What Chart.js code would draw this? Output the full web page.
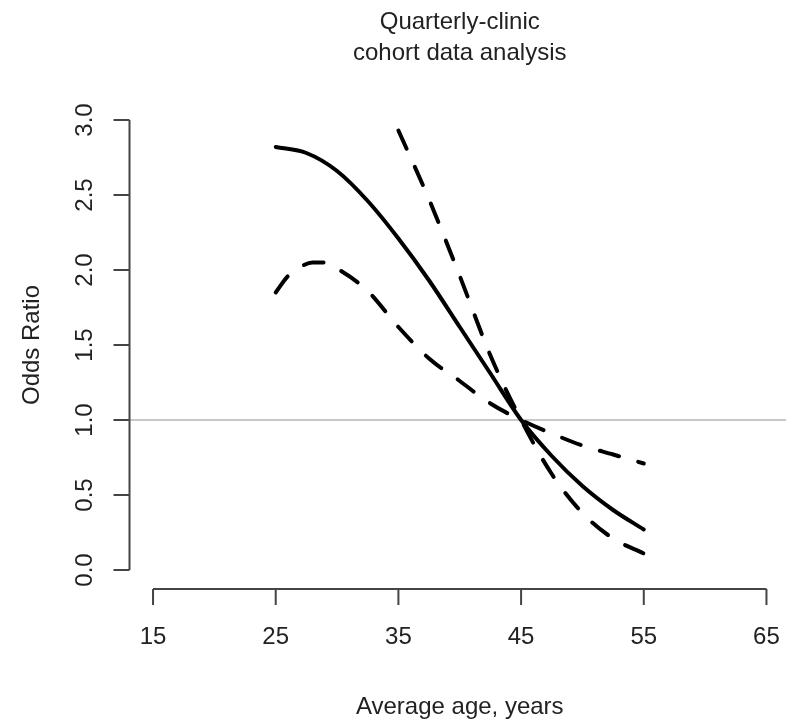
<!DOCTYPE html>
<html>
<head>
<meta charset="utf-8">
<script src="https://cdn.jsdelivr.net/npm/chart.js@4/dist/chart.umd.min.js"></script>
<style>
  html, body { margin: 0; padding: 0; background: #fff; overflow: hidden; }
  canvas { display: block; }
</style>
</head>
<body>
<canvas id="orChart" width="791" height="721"></canvas>
<script>
// Odds ratio vs average age - R base plot look

// ===== DADOS =====
const titleLines = ['Quarterly-clinic', 'cohort data analysis'];
const xTitle = 'Average age, years';
const yTitle = 'Odds Ratio';

const xTicks = [15, 25, 35, 45, 55, 65];
const yTicks = [0, 0.5, 1, 1.5, 2, 2.5, 3];
const refLine = 1.0;

// curva central (linha cheia)
const estAge = [25, 27.5, 30, 32.5, 35, 37.5, 40, 42.5, 45, 47.5, 50, 52.5, 55];
const estOR  = [2.82, 2.78, 2.66, 2.46, 2.21, 1.93, 1.62, 1.31, 1.00, 0.76, 0.56, 0.40, 0.27];

// limite superior (tracejado)
const upperAge = [35, 37.5, 40, 42.5, 45, 47.5, 50, 52.5, 55];
const upperOR  = [2.93, 2.47, 1.96, 1.43, 1.00, 0.64, 0.38, 0.21, 0.11];

// limite inferior (tracejado)
const lowerAge = [25, 26, 27, 28, 29, 30, 32.5, 35, 37.5, 40, 42.5, 45, 47.5, 50, 52.5, 55];
const lowerOR  = [1.85, 1.96, 2.02, 2.05, 2.05, 2.01, 1.86, 1.62, 1.41, 1.26, 1.11, 1.00, 0.91, 0.83, 0.77, 0.71];

// faixa dos eixos (R estende 4% de cada lado)
const X_MIN = 13, X_MAX = 67;
const Y_MIN = -0.12, Y_MAX = 3.12;

const FONT = '"Liberation Sans", Arial, Helvetica, sans-serif';

function toPoints(xs, ys) {
  return xs.map((x, i) => ({ x: x, y: ys[i] }));
}

// ===== EIXOS E TEXTOS ESTILO R =====
const rAxesPlugin = {
  id: 'rAxes',
  afterDraw(chart) {
    const ctx = chart.ctx;
    const xs = chart.scales.x;
    const ys = chart.scales.y;
    const area = chart.chartArea;
    const cx = (area.left + area.right) / 2;

    ctx.save();

    // título
    ctx.fillStyle = '#222';
    ctx.font = '24px ' + FONT;
    ctx.textAlign = 'center';
    ctx.textBaseline = 'middle';
    titleLines.forEach((line, i) => ctx.fillText(line, cx, 22 + i * 31));

    // eixo y
    const axisX = Math.round(area.left) + 0.5;
    ctx.strokeStyle = '#444';
    ctx.lineWidth = 2;
    ctx.beginPath();
    ctx.moveTo(axisX, ys.getPixelForValue(yTicks[0]));
    ctx.lineTo(axisX, ys.getPixelForValue(yTicks[yTicks.length - 1]));
    yTicks.forEach(v => {
      const py = ys.getPixelForValue(v);
      ctx.moveTo(axisX, py);
      ctx.lineTo(axisX - 16, py);
    });
    ctx.stroke();

    yTicks.forEach(v => {
      const py = ys.getPixelForValue(v);
      ctx.save();
      ctx.translate(85, py);
      ctx.rotate(-Math.PI / 2);
      ctx.fillText(v.toFixed(1), 0, 0);
      ctx.restore();
    });

    ctx.save();
    ctx.translate(32, (area.top + area.bottom) / 2);
    ctx.rotate(-Math.PI / 2);
    ctx.fillText(yTitle, 0, 0);
    ctx.restore();

    // eixo x
    const axisY = Math.round(area.bottom) + 1;
    ctx.beginPath();
    ctx.moveTo(xs.getPixelForValue(xTicks[0]), axisY);
    ctx.lineTo(xs.getPixelForValue(xTicks[xTicks.length - 1]), axisY);
    xTicks.forEach(v => {
      const px = xs.getPixelForValue(v);
      ctx.moveTo(px, axisY);
      ctx.lineTo(px, axisY + 16);
    });
    ctx.stroke();

    xTicks.forEach(v => {
      ctx.fillText(String(v), xs.getPixelForValue(v), 637);
    });
    ctx.fillText(xTitle, cx, 707);

    ctx.restore();
  }
};

// ===== GRÁFICO =====
const lineBase = {
  borderColor: '#000',
  borderWidth: 4,
  pointRadius: 0,
  fill: false,
  cubicInterpolationMode: 'monotone',
  borderCapStyle: 'round',
  borderJoinStyle: 'round'
};

new Chart(document.getElementById('orChart'), {
  type: 'line',
  data: {
    datasets: [
      Object.assign({}, lineBase, { label: 'OR', data: toPoints(estAge, estOR) }),
      Object.assign({}, lineBase, { label: 'Upper', data: toPoints(upperAge, upperOR), borderDash: [20, 20] }),
      Object.assign({}, lineBase, { label: 'Lower', data: toPoints(lowerAge, lowerOR), borderDash: [20, 20] }),
      {
        label: 'Reference',
        data: [{ x: X_MIN, y: refLine }, { x: X_MAX, y: refLine }],
        borderColor: '#c8c8c8',
        borderWidth: 2,
        pointRadius: 0,
        fill: false,
        order: 10
      }
    ]
  },
  options: {
    responsive: false,
    animation: false,
    devicePixelRatio: 1,
    layout: { padding: { left: 128.5, right: 0, top: 102, bottom: 133 } },
    scales: {
      x: { type: 'linear', min: X_MIN, max: X_MAX, display: false },
      y: { type: 'linear', min: Y_MIN, max: Y_MAX, display: false }
    },
    plugins: {
      legend: { display: false },
      tooltip: { enabled: false },
      title: { display: false }
    }
  },
  plugins: [rAxesPlugin]
});
</script>
</body>
</html>
